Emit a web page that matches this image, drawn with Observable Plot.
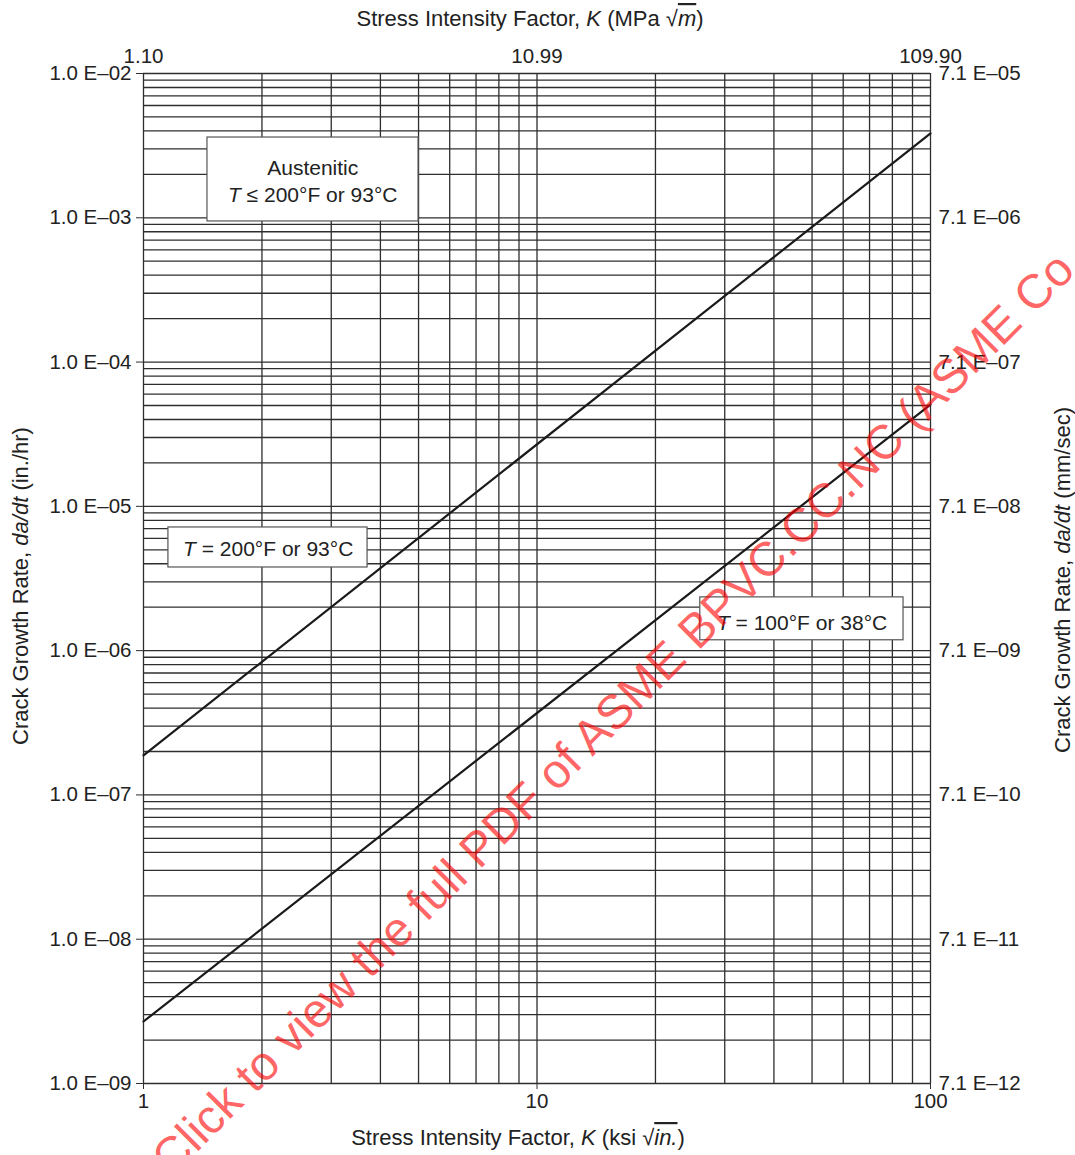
<!DOCTYPE html>
<html>
<head>
<meta charset="utf-8">
<script src="https://cdn.jsdelivr.net/npm/d3@7"></script>
<script src="https://cdn.jsdelivr.net/npm/@observablehq/plot@0.6"></script>
<style>
  html, body { margin: 0; padding: 0; background: #fff; }
  #chart svg { display: block; }
</style>
</head>
<body>
<div id="chart"></div>
<script>
// ---- Data ----
const K_ksi = [1, 100];                    // stress intensity factor, ksi√in.
const rate200F = [1.88e-7, 3.85e-3];       // da/dt (in./hr), T = 200°F or 93°C
const rate100F = [2.69e-9, 5.08e-5];       // da/dt (in./hr), T = 100°F or 38°C

const xTicks = [1, 10, 100];
const xBottomLabels = ["1", "10", "100"];
const xTopLabels = ["1.10", "10.99", "109.90"];

const yTicks = [1e-9, 1e-8, 1e-7, 1e-6, 1e-5, 1e-4, 1e-3, 1e-2];
const yLeftLabels = ["1.0 E–09", "1.0 E–08", "1.0 E–07", "1.0 E–06", "1.0 E–05", "1.0 E–04", "1.0 E–03", "1.0 E–02"];
const yRightLabels = ["7.1 E–12", "7.1 E–11", "7.1 E–10", "7.1 E–09", "7.1 E–08", "7.1 E–07", "7.1 E–06", "7.1 E–05"];

// annotation boxes (in data units)
const notes = [
  {x1: 1.454, x2: 5.0, y1: 9.43e-4, y2: 3.6e-3},
  {x1: 1.157, x2: 3.71, y1: 3.77e-6, y2: 7.14e-6},
  {x1: 26.0, x2: 85.4, y1: 1.18e-6, y2: 2.34e-6}
];

// ---- Build table ----
const lines = [
  ...K_ksi.map((k, i) => ({K: k, rate: rate200F[i], series: "200F"})),
  ...K_ksi.map((k, i) => ({K: k, rate: rate100F[i], series: "100F"}))
];

const font = "'Liberation Sans', Arial, Helvetica, sans-serif";
const ink = "#222";
const gridColor = "#2e2e2e";

const plot = Plot.plot({
  width: 1075,
  height: 1155,
  marginLeft: 143,
  marginRight: 145,
  marginTop: 73,
  marginBottom: 72,
  style: {fontFamily: font, fontSize: "20.5px", color: ink, background: "#fff"},
  x: {type: "log", domain: [1, 100]},
  y: {type: "log", domain: [1e-9, 1e-2]},
  marks: [
    Plot.gridX({ticks: 20, stroke: gridColor, strokeOpacity: 1, strokeWidth: 1.3}),
    Plot.gridY({ticks: 60, stroke: gridColor, strokeOpacity: 1, strokeWidth: 1.3}),
    Plot.axisX({anchor: "bottom", ticks: xTicks, tickFormat: d => xBottomLabels[xTicks.indexOf(d)],
      tickSize: 6, tickPadding: 4, label: null, stroke: gridColor}),
    Plot.axisX({anchor: "top", ticks: xTicks, tickFormat: d => xTopLabels[xTicks.indexOf(d)],
      tickSize: 0, tickPadding: 11, label: null}),
    Plot.axisY({anchor: "left", ticks: yTicks, tickFormat: d => yLeftLabels[yTicks.indexOf(d)],
      tickSize: 7, tickPadding: 5, label: null, stroke: gridColor}),
    Plot.axisY({anchor: "right", ticks: yTicks, tickFormat: d => yRightLabels[yTicks.indexOf(d)],
      tickSize: 0, tickPadding: 8, label: null}),
    Plot.line(lines, {x: "K", y: "rate", z: "series", stroke: "#1a1a1a", strokeWidth: 2.2}),
    Plot.rect(notes, {x1: "x1", x2: "x2", y1: "y1", y2: "y2", fill: "white", stroke: "#555", strokeWidth: 1.2})
  ]
});

document.getElementById("chart").appendChild(plot);

// ---- Rich text (italics, radicals) ----
const svg = d3.select(plot);
const sx = plot.scale("x"), sy = plot.scale("y");
const X = d3.scaleLog().domain(sx.domain).range(sx.range);
const Y = d3.scaleLog().domain(sy.domain).range(sy.range);

function rich(g, parts) {
  for (const p of parts) {
    const t = g.append("tspan").text(p.t);
    if (p.i) t.attr("font-style", "italic");
    if (p.o) t.style("text-decoration", "overline");
  }
  return g;
}
function label(x, y, parts, rotate = 0, size = 21) {
  const g = svg.append("text")
    .attr("transform", `translate(${x},${y}) rotate(${rotate})`)
    .attr("text-anchor", "middle")
    .attr("dominant-baseline", "central")
    .attr("font-family", font)
    .attr("font-size", size)
    .attr("fill", ink);
  return rich(g, parts);
}

// annotation texts (positions in data units)
label(X(2.70), Y(2.23e-3), [{t: "Austenitic"}]);
label(X(2.70), Y(1.45e-3), [{t: "T", i: true}, {t: " ≤ 200°F or 93°C"}]);
label(X(2.08), Y(5.1e-6), [{t: "T", i: true}, {t: " = 200°F or 93°C"}]);
label(X(47.3), Y(1.57e-6), [{t: "T", i: true}, {t: " = 100°F or 38°C"}]);

// axis titles
label(530, 18, [{t: "Stress Intensity Factor, "}, {t: "K", i: true}, {t: " (MPa "}, {t: "√"}, {t: "m", i: true, o: true}, {t: ")"}], 0, 22);
label(518, 1137, [{t: "Stress Intensity Factor, "}, {t: "K", i: true}, {t: " (ksi "}, {t: "√"}, {t: "in.", i: true, o: true}, {t: ")"}], 0, 22);
label(20, 586, [{t: "Crack Growth Rate, "}, {t: "da/dt", i: true}, {t: " (in./hr)"}], -90, 22);
label(1062, 580, [{t: "Crack Growth Rate, "}, {t: "da/dt", i: true}, {t: " (mm/sec)"}], -90, 22);

// watermark
svg.append("text")
  .attr("transform", "translate(160,1166) rotate(-45)")
  .attr("text-anchor", "start")
  .attr("dominant-baseline", "central")
  .attr("font-family", font)
  .attr("font-size", 48)
  .attr("fill", "#ff0000")
  .attr("fill-opacity", 0.62)
  .text("Click to view the full PDF of ASME BPVC.CC.NC (ASME Co");
</script>
</body>
</html>
